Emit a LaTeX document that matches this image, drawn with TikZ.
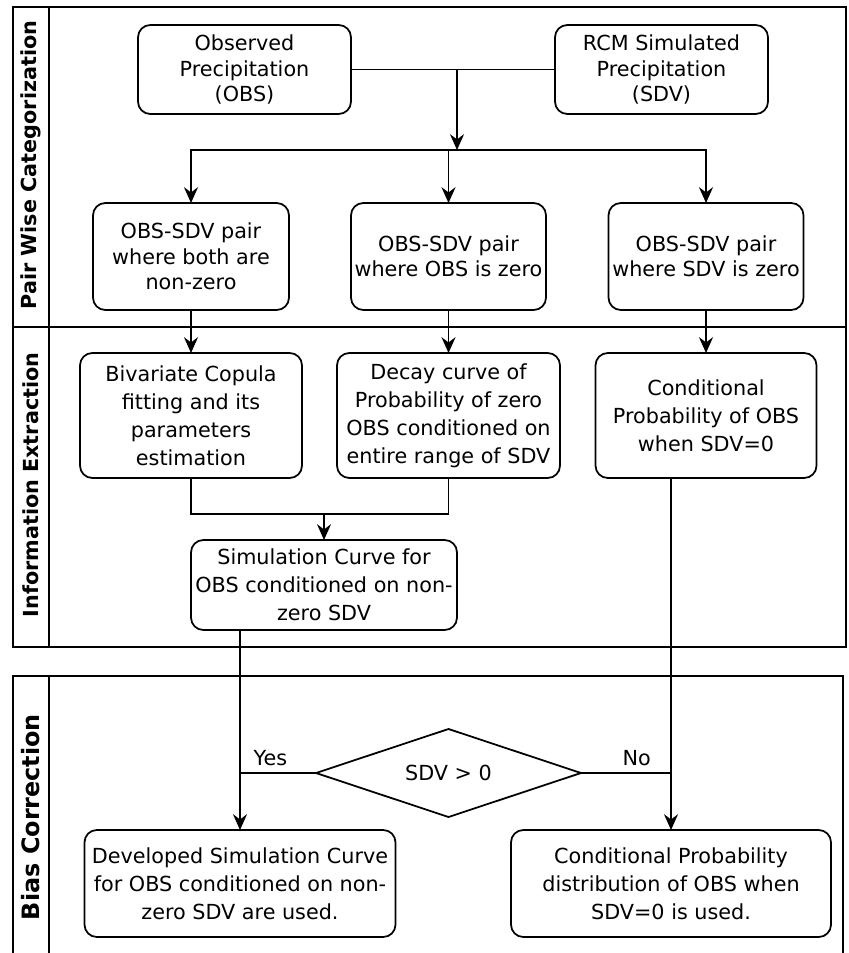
\documentclass[tikz,border=0pt]{standalone}
\usepackage{fontspec}
\setmainfont{DejaVu Sans}
\usetikzlibrary{arrows.meta,shapes.geometric}

\begin{document}
\begin{tikzpicture}[
  every node/.style={inner sep=0,outer sep=0},
  box/.style={draw,line width=1pt,rounded corners=7pt,align=center,font=\fontsize{11.8}{16}\selectfont},
  topbox/.style={box,font=\fontsize{11.8}{14.5}\selectfont},
  lane/.style={rotate=90,font=\fontsize{11.8}{14}\selectfont\bfseries},
  frame/.style={line width=1.2pt},
  link/.style={line width=1pt},
  >={Stealth[length=9pt,width=8pt,inset=3pt]}]
\useasboundingbox (0,0) rectangle (16.96,-19.06);
% swim lanes
\draw[frame] (0.26,-0.14) rectangle (16.92,-12.94);
\draw[frame] (0.98,-0.14) -- (0.98,-12.94);
\draw[frame] (0.26,-6.54) -- (16.92,-6.54);
\draw[frame] (0.26,-19.06) |- (16.86,-13.52) -- (16.86,-19.06);
\draw[frame] (0.98,-13.52) -- (0.98,-19.06);
\node (pwc) at (0.62,-3.3) [lane] {Pair Wise Categorization};
\node (ie) at (0.62,-9.7) [lane] {Information Extraction};
\node (bc) at (0.62,-16.34) [lane,font=\fontsize{13.6}{16}\selectfont\bfseries] {Bias Correction};
% pair wise categorization
\node (obs) at (4.89,-1.39) [topbox,minimum width=4.26cm,minimum height=1.78cm] {Observed\\Precipitation\\(OBS)};
\node (rcm) at (13.23,-1.39) [topbox,minimum width=4.26cm,minimum height=1.78cm] {RCM Simulated\\Precipitation\\(SDV)};
\node (both) at (3.82,-5.13) [topbox,minimum width=3.92cm,minimum height=2.14cm] {OBS-SDV pair\\where both are\\non-zero};
\node (obszero) at (8.97,-5.13) [topbox,minimum width=3.9cm,minimum height=2.14cm] {OBS-SDV pair\\where OBS is zero};
\node (sdvzero) at (14.12,-5.13) [topbox,minimum width=3.9cm,minimum height=2.14cm] {OBS-SDV pair\\where SDV is zero};
\coordinate (split) at (9.14,-1.39);
\coordinate (bus) at (9.14,-3.0);
\draw[link] (obs) -- (rcm);
\draw[link,->] (split) -- (bus);
\draw[link,->] (bus) -| (both);
\draw[link,->] (bus) -| (sdvzero);
\draw[link,->] (obszero |- bus) -- (obszero);
% information extraction
\node (copula) at (3.82,-8.31) [box,minimum width=4.44cm,minimum height=2.5cm] {Bivariate Copula\\fitting and its\\parameters\\estimation};
\node (decay) at (8.97,-8.31) [box,minimum width=4.46cm,minimum height=2.5cm] {Decay curve of\\Probability of zero\\OBS conditioned on\\entire range of SDV};
\node (condprob) at (14.12,-8.31) [box,minimum width=4.42cm,minimum height=2.5cm] {Conditional\\Probability of OBS\\when SDV=0};
\node (simcurve) at (6.48,-11.7) [box,minimum width=5.32cm,minimum height=1.8cm] {Simulation Curve for\\OBS conditioned on non-\\zero SDV};
\coordinate (merge) at (6.48,-10.28);
\draw[link,->] (both) -- (copula);
\draw[link,->] (obszero) -- (decay);
\draw[link,->] (sdvzero) -- (condprob);
\draw[link] (copula) |- (merge) -| (decay);
\draw[link,->] (merge) -- (simcurve);
% bias correction
\node (test) at (8.97,-15.46) [draw,line width=1pt,diamond,aspect=3,minimum width=5.3cm,minimum height=1.76cm,font=\fontsize{11.8}{14}\selectfont] {SDV > 0};
\node (developed) at (4.8,-17.67) [box,minimum width=6.22cm,minimum height=2.14cm] {Developed Simulation Curve\\for OBS conditioned on non-\\zero SDV are used.};
\node (condist) at (13.42,-17.67) [box,minimum width=6.4cm,minimum height=2.14cm] {Conditional Probability\\distribution of OBS when\\SDV=0 is used.};
\draw[link,->] (simcurve.south -| developed) -- (developed);
\draw[link,->] (condprob.south -| condist) -- (condist);
\draw[link] (developed |- test) -- node[above=4pt,pos=0.4,font=\fontsize{11.8}{14}\selectfont] {Yes} (test);
\draw[link] (test) -- node[above=4pt,pos=0.62,font=\fontsize{11.8}{14}\selectfont] {No} (condist |- test);
\end{tikzpicture}
\end{document}
